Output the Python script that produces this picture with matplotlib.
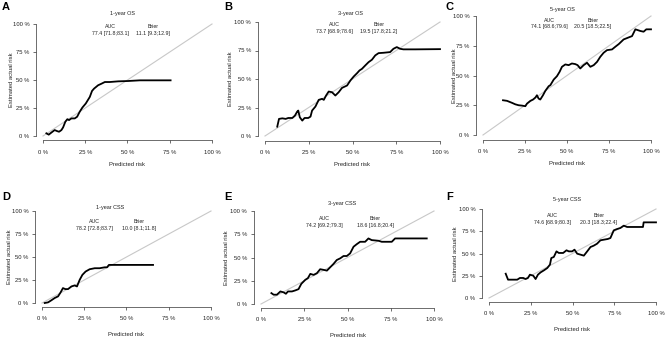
import matplotlib
matplotlib.use("Agg")
import matplotlib.pyplot as plt
import numpy as np

plt.rcParams['font.family'] = ['Liberation Sans', 'DejaVu Sans']

W, H = 666, 340

titles = ["1-year OS", "3-year OS", "5-year OS", "1-year CSS", "3-year CSS", "5-year CSS"]
letters = ["A", "B", "C", "D", "E", "F"]
auc_text = ["77.4 [71.8;83.1]", "73.7 [68.9;78.6]", "74.1 [68.6;79.6]",
            "78.2 [72.8;83.7]", "74.2 [69.2;79.3]", "74.6 [68.9;80.3]"]
brier_text = ["11.1 [9.3;12.9]", "19.5 [17.8;21.2]", "20.5 [18.5;22.5]",
              "10.0 [8.1;11.8]", "18.6 [16.8;20.4]", "20.3 [18.3;22.4]"]

# calibration curves: predicted risk (%) and estimated actual risk (%)
a_x = [2.0, 3.4, 4.9, 6.9, 8.3, 9.5, 10.9, 11.9, 13.2, 14.4, 15.4, 16.8, 18.8, 20.2, 21.7, 23.3, 25.3, 27.7, 29.0, 30.2, 32.6, 34.6, 36.6, 39.5, 44.5, 50.4, 57.3, 75.5]
a_y = [2.4, 1.2, 3.0, 5.3, 4.4, 3.8, 5.3, 7.7, 12.7, 15.0, 14.2, 15.7, 15.7, 17.2, 21.6, 25.4, 29.0, 34.9, 40.2, 42.3, 45.3, 46.7, 48.2, 48.2, 48.8, 49.1, 49.7, 49.7]

b_x = [7.0, 8.0, 9.9, 11.8, 13.3, 15.6, 17.1, 18.4, 19.0, 19.9, 21.3, 22.6, 24.7, 26.0, 26.9, 28.8, 30.7, 32.6, 33.6, 34.9, 36.4, 38.3, 40.2, 42.1, 44.0, 46.9, 48.8, 50.7, 52.6, 54.0, 55.4, 57.3, 59.2, 61.1, 63.0, 64.9, 67.7, 71.5, 73.4, 75.3, 77.2, 79.1, 85.8, 100.0]
b_y = [8.2, 15.0, 15.5, 15.0, 15.8, 15.8, 17.9, 21.4, 22.3, 16.4, 13.5, 15.8, 15.8, 17.0, 22.3, 25.8, 31.7, 32.6, 31.7, 35.5, 39.0, 38.4, 35.5, 38.4, 42.2, 44.3, 48.7, 52.2, 55.1, 57.5, 58.9, 61.9, 64.8, 66.9, 70.7, 72.7, 73.0, 73.6, 76.5, 78.0, 76.5, 76.0, 76.0, 76.2]

c_x = [11.9, 14.3, 17.3, 19.2, 21.2, 23.2, 25.2, 26.2, 28.2, 29.8, 31.2, 32.1, 33.1, 34.1, 35.7, 37.1, 39.1, 40.1, 42.1, 44.0, 45.6, 47.0, 49.0, 51.0, 52.9, 54.9, 56.3, 57.9, 59.9, 61.9, 63.9, 65.9, 67.9, 69.8, 71.8, 73.8, 76.8, 78.8, 80.8, 83.7, 86.7, 88.7, 90.7, 93.7, 95.6, 97.2, 100.0]
c_y = [29.2, 28.7, 27.0, 25.8, 25.0, 24.7, 24.2, 26.4, 28.7, 29.8, 31.5, 33.4, 30.6, 29.8, 33.4, 37.1, 41.0, 41.9, 46.6, 49.4, 53.1, 57.3, 59.3, 58.7, 60.1, 59.6, 58.7, 55.9, 58.7, 60.7, 57.3, 58.7, 61.5, 65.7, 69.1, 71.3, 71.9, 74.2, 76.4, 80.3, 82.0, 83.1, 88.8, 87.4, 86.8, 88.8, 88.8]

d_x = [1.6, 3.6, 5.5, 7.5, 9.5, 11.0, 12.4, 13.8, 15.4, 17.4, 19.3, 20.7, 22.3, 23.9, 25.8, 28.2, 31.2, 34.1, 37.1, 38.5, 39.6, 44.0, 65.7]
d_y = [0.0, 0.7, 2.9, 5.4, 7.2, 11.5, 16.2, 15.1, 15.1, 18.0, 19.1, 18.0, 25.2, 30.6, 34.2, 36.7, 37.8, 37.8, 38.8, 38.8, 41.4, 41.4, 41.4]

e_x = [6.0, 7.3, 9.2, 11.2, 13.1, 14.4, 15.6, 17.9, 19.8, 21.7, 23.3, 25.6, 27.1, 28.5, 30.4, 32.3, 34.2, 36.2, 38.1, 40.0, 41.9, 43.8, 45.8, 47.7, 49.6, 51.5, 53.5, 55.4, 57.3, 60.2, 62.1, 64.0, 67.9, 69.8, 75.6, 77.5, 85.2, 95.8]
e_y = [11.7, 10.0, 10.0, 13.5, 12.5, 11.0, 13.5, 13.5, 14.6, 16.0, 21.7, 26.0, 27.8, 32.4, 31.3, 33.1, 37.4, 36.7, 35.9, 39.5, 43.1, 47.3, 49.1, 51.6, 51.6, 54.4, 61.6, 64.4, 66.9, 66.9, 70.5, 68.7, 68.0, 66.9, 66.9, 70.5, 70.5, 70.5]

f_x = [10.0, 11.4, 14.9, 16.9, 18.5, 20.5, 21.9, 23.3, 24.5, 26.5, 27.9, 29.3, 30.9, 32.9, 34.9, 36.5, 37.3, 38.8, 40.4, 41.8, 44.4, 46.4, 47.8, 49.8, 51.2, 52.8, 54.8, 56.8, 58.8, 60.8, 62.7, 64.7, 66.7, 68.7, 71.1, 72.7, 74.7, 76.7, 78.7, 80.7, 82.7, 86.7, 92.2, 92.6, 100.0]
f_y = [27.3, 20.6, 20.6, 20.6, 22.5, 22.5, 21.3, 22.5, 26.2, 25.1, 21.3, 26.2, 28.8, 31.1, 33.7, 37.5, 44.9, 46.1, 52.4, 50.6, 50.6, 53.6, 52.4, 52.4, 54.3, 49.8, 48.7, 47.6, 52.4, 57.3, 58.8, 61.0, 64.8, 65.5, 66.3, 67.4, 76.0, 77.5, 78.7, 81.3, 79.8, 79.8, 79.8, 85.0, 85.0]

curves = [(a_x, a_y), (b_x, b_y), (c_x, c_y), (d_x, d_y), (e_x, e_y), (f_x, f_y)]

# ---- layout (pixels from top-left) ----
# pixel positions of 0% and 100% on x and y for each panel (x0, x100, y100, y0)
panel_px = [(43, 212, 24, 136), (265, 440, 22, 136), (483, 651, 16, 135),
            (42, 211, 211, 303), (261, 434, 211, 304), (489, 656, 209, 298)]
letter_px = [(2, 7), (224, 7), (446, 7), (2, 197), (224, 197), (446, 197)]
title_px = [(123, 13.5), (351, 13.3), (562, 10), (110, 207.5), (342, 203.3), (567, 199.3)]
# (auc column x, brier column x, header y, value y)
table_px = [(110.5, 152.8, 26, 33.3), (334.5, 378.8, 25, 31.7), (549.7, 592.7, 20, 26.3),
            (94.5, 139, 221.7, 228.3), (324.7, 375.3, 218.3, 225), (552.2, 599, 215.7, 222.3)]
xlabel_y = [164, 164.3, 163.3, 335, 335.7, 329.3]
ylabel_x = [11.7, 230.3, 454, 10, 227, 455.7]

ticks = [0, 25, 50, 75, 100]
tick_labels = ["0 %", "25 %", "50 %", "75 %", "100 %"]

fig = plt.figure(figsize=(W / 100, H / 100), dpi=100)
fs = 4.2      # axis labels / ticks
fs_t = 4.0    # titles
fs_tab = 3.8  # AUC / Brier table
tc = "#222222"


def ft(x, y, s, **kw):
    fig.text(x / W, 1 - y / H, s, **kw)


for i in range(6):
    x0, x100, y100, y0 = panel_px[i]
    wpx = x100 - x0
    hpx = y0 - y100
    left = x0 - 0.04 * wpx
    right = x100 + 0.04 * wpx
    top = y100 - 0.04 * hpx
    bot = y0 + 0.04 * hpx
    ax = fig.add_axes([left / W, 1 - bot / H, (right - left) / W, (bot - top) / H])
    ax.set_xlim(-4, 104)
    ax.set_ylim(-4, 104)
    ax.patch.set_alpha(0)
    for s in ["top", "right"]:
        ax.spines[s].set_visible(False)
    for s in ["left", "bottom"]:
        ax.spines[s].set_bounds(0, 100)
        ax.spines[s].set_linewidth(0.5)
        ax.spines[s].set_color("#333333")
    ax.set_xticks(ticks)
    ax.set_xticklabels(tick_labels)
    ax.set_yticks(ticks)
    ax.set_yticklabels(tick_labels)
    ax.tick_params(axis="both", length=2.5, width=0.5, labelsize=fs, colors="#333333", labelcolor=tc)
    ax.tick_params(axis="x", pad=4)
    ax.tick_params(axis="y", pad=2.5)
    ax.plot([0, 100], [0, 100], color="#c8c8c8", lw=0.8, zorder=1)
    cx, cy = curves[i]
    ax.plot(cx, cy, color="black", lw=1.3, zorder=2, solid_joinstyle="round")

    ft((x0 + x100) / 2, xlabel_y[i], "Predicted risk", fontsize=fs, color=tc, ha="center", va="center")
    ft(ylabel_x[i], (y0 + y100) / 2, "Estimated actual risk", fontsize=fs, color=tc,
       ha="center", va="center", rotation=90)
    tx, ty = title_px[i]
    ft(tx, ty, titles[i], fontsize=fs_t, color=tc, ha="center", va="center")
    ax_x, br_x, hy, vy = table_px[i]
    ft(ax_x, hy, "AUC", fontsize=fs_tab, color=tc, ha="center", va="center")
    ft(ax_x, vy, auc_text[i], fontsize=fs_tab, color=tc, ha="center", va="center")
    ft(br_x, hy, "Brier", fontsize=fs_tab, color=tc, ha="center", va="center")
    ft(br_x, vy, brier_text[i], fontsize=fs_tab, color=tc, ha="center", va="center")
    lx, ly = letter_px[i]
    ft(lx, ly, letters[i], fontsize=8, fontweight="bold", ha="left", va="center")

fig.savefig("out.png", dpi=100)
